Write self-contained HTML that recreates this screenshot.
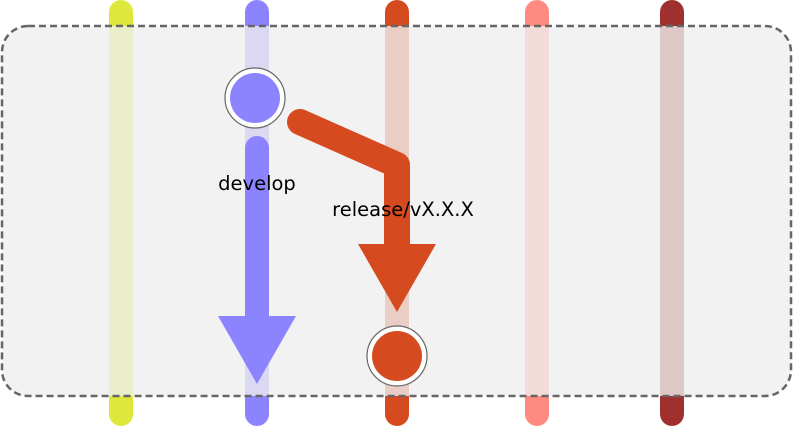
<!DOCTYPE html>
<html><head><style>html,body{margin:0;padding:0;background:#fff;}svg{display:block}</style></head>
<body>
<svg width="793" height="429" viewBox="0 0 793 429" xmlns="http://www.w3.org/2000/svg">
<g stroke-width="24" stroke-linecap="round" fill="none">
<line x1="121" y1="12" x2="121" y2="414" stroke="#dde83a"/>
<line x1="257" y1="12" x2="257" y2="414" stroke="#8c84ff"/>
<line x1="397" y1="12" x2="397" y2="414" stroke="#d64a20"/>
<line x1="537" y1="12" x2="537" y2="414" stroke="#ff8a80"/>
<line x1="672" y1="12" x2="672" y2="414" stroke="#a03030"/>
</g>
<rect x="2" y="26" width="789" height="370" rx="26" fill="#efefef" fill-opacity="0.8" stroke="#666" stroke-width="2.5" stroke-dasharray="7,4"/>
<line x1="257" y1="148" x2="257" y2="320" stroke="#8c84ff" stroke-width="24" stroke-linecap="round"/>
<polygon points="218,316 296,316 257,384" fill="#8c84ff"/>
<polyline points="300,122 397,165 397,250" fill="none" stroke="#d64a20" stroke-width="26" stroke-linecap="round" stroke-linejoin="round"/>
<polygon points="358,244 436,244 397,312" fill="#d64a20"/>
<circle cx="255" cy="98" r="30" fill="#fff" stroke="#666" stroke-width="1.2"/>
<circle cx="255" cy="98" r="25" fill="#8c84ff"/>
<circle cx="397" cy="356" r="30" fill="#fff" stroke="#666" stroke-width="1.2"/>
<circle cx="397" cy="356" r="25" fill="#d64a20"/>
<text x="257" y="190" text-anchor="middle" font-family="DejaVu Sans, sans-serif" font-size="19.5" fill="#000">develop</text>
<text x="403" y="216" text-anchor="middle" font-family="DejaVu Sans, sans-serif" font-size="19.5" fill="#000">release/vX.X.X</text>
</svg>
</body></html>
